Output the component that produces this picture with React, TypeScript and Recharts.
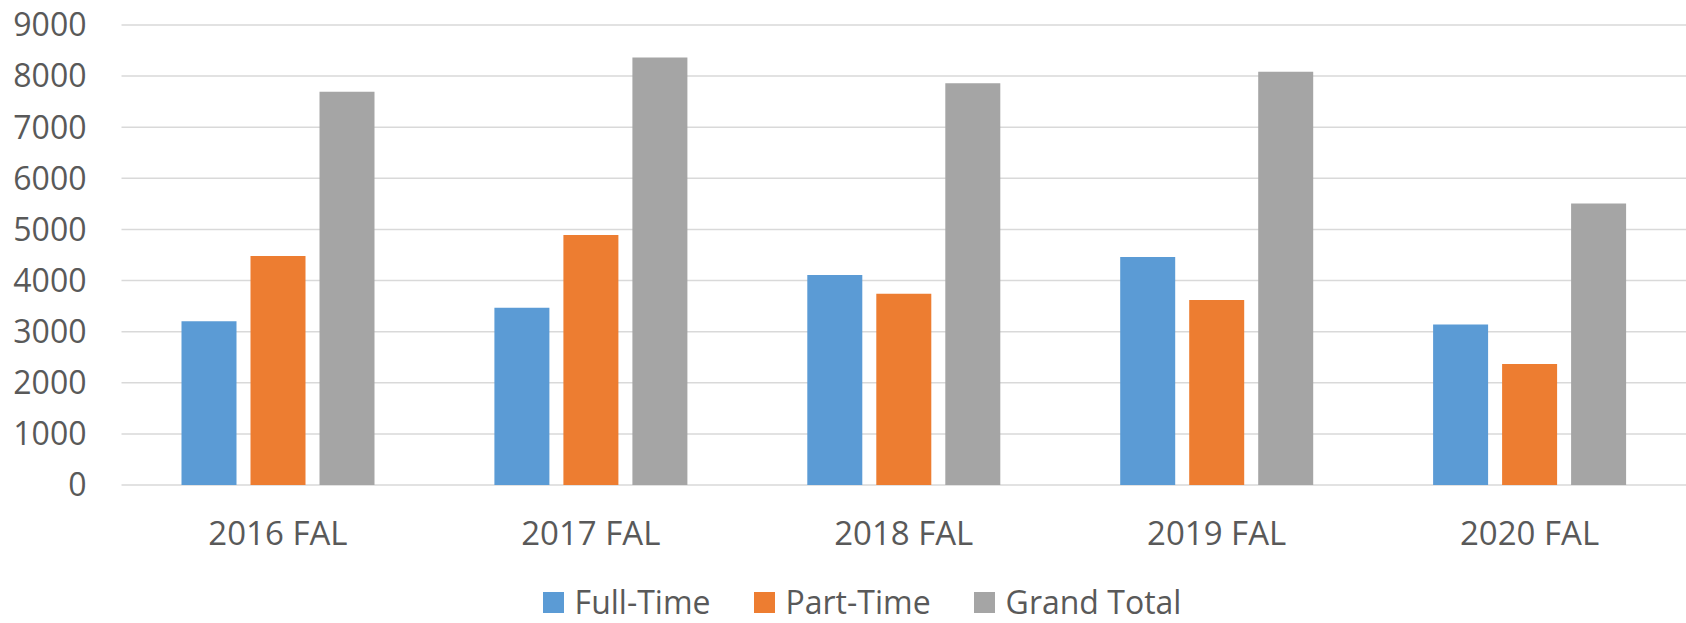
import React from 'react';
import { BarChart, Bar, XAxis, YAxis, CartesianGrid, Legend } from 'recharts';

const categories = ['2016 FAL', '2017 FAL', '2018 FAL', '2019 FAL', '2020 FAL'];
const fullTime = [3205, 3466, 4107, 4459, 3142];
const partTime = [4482, 4893, 3742, 3618, 2366];
const grandTotal = [7694, 8363, 7862, 8083, 5508];
const yTicks = [0, 1000, 2000, 3000, 4000, 5000, 6000, 7000, 8000, 9000];

const seriesInfo = [
  { key: 'fullTime', name: 'Full-Time', color: '#5B9BD5' },
  { key: 'partTime', name: 'Part-Time', color: '#ED7D31' },
  { key: 'grandTotal', name: 'Grand Total', color: '#A5A5A5' },
];

const data = categories.map((c, i) => ({
  category: c,
  fullTime: fullTime[i],
  partTime: partTime[i],
  grandTotal: grandTotal[i],
}));

const FONT = '"Open Sans", "Noto Sans", sans-serif';
const TEXT = '#595959';

const renderLegend = () => (
  <div
    style={{
      display: 'flex',
      justifyContent: 'center',
      alignItems: 'center',
      paddingLeft: 38,
      height: 42,
      fontFamily: FONT,
      fontSize: 32,
      color: TEXT,
      boxSizing: 'border-box',
    }}
  >
    {seriesInfo.map((s, i) => (
      <div
        key={s.key}
        style={{ display: 'flex', alignItems: 'center', marginLeft: i === 0 ? 0 : 43 }}
      >
        <div style={{ width: 21, height: 21, background: s.color, marginRight: 11 }} />
        <span style={{ lineHeight: '42px', whiteSpace: 'nowrap' }}>{s.name}</span>
      </div>
    ))}
  </div>
);

export default function App() {
  return (
    <div style={{ position: 'fixed', left: 0, top: 0, background: '#fff' }}>
      <BarChart
        width={1686}
        height={623}
        data={data}
        margin={{ top: 25, right: 0, bottom: 0, left: 0 }}
        barCategoryGap={60}
        barGap={14}
      >
        <CartesianGrid vertical={false} stroke="#D9D9D9" strokeWidth={1.5} />
        <XAxis
          dataKey="category"
          axisLine={false}
          tickLine={false}
          tickSize={0}
          tickMargin={37}
          height={96}
          interval={0}
          tick={{ fill: TEXT, fontSize: 33, fontFamily: FONT }}
        />
        <YAxis
          domain={[0, 9000]}
          ticks={yTicks}
          interval={0}
          axisLine={false}
          tickLine={false}
          tickSize={0}
          tickMargin={35}
          width={121.5}
          tick={{ fill: TEXT, fontSize: 32, fontFamily: FONT }}
        />
        <Legend verticalAlign="bottom" height={42} content={renderLegend} />
        {seriesInfo.map((s) => (
          <Bar
            key={s.key}
            dataKey={s.key}
            name={s.name}
            fill={s.color}
            isAnimationActive={false}
          />
        ))}
      </BarChart>
    </div>
  );
}
